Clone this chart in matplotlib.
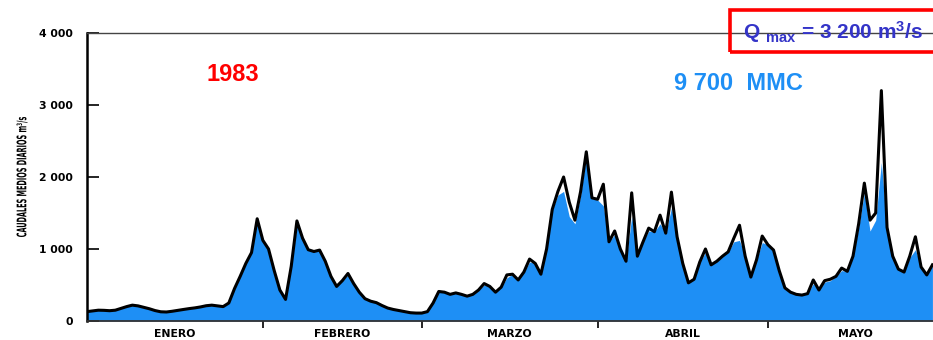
import matplotlib
matplotlib.use("Agg")
import matplotlib.pyplot as plt
from matplotlib.patches import Rectangle, PathPatch
from matplotlib.textpath import TextPath
from matplotlib.font_manager import FontProperties
from matplotlib.transforms import Affine2D, IdentityTransform
from matplotlib.ticker import FixedLocator, NullFormatter

# Caudales medios diarios 1983, enero a mayo (m3/s)
caudal = [
    130, 140, 150, 148, 143, 150, 175, 200, 220, 210,
    190, 170, 145, 128, 125, 135, 148, 160, 172, 182,
    195, 212, 220, 210, 200, 250, 450, 620, 800, 950,
    1420, 1120, 1000, 700, 430, 300, 760, 1390, 1150, 990,
    965, 985, 830, 620, 480, 560, 660, 520, 400, 310,
    275, 255, 215, 180, 160, 145, 130, 115, 110, 110,
    130, 250, 410, 400, 370, 390, 370, 345, 370, 430,
    520, 480, 400, 470, 640, 650, 570, 680, 860, 800,
    650, 1000, 1550, 1800, 2000, 1650, 1400, 1800, 2350, 1710,
    1690, 1900, 1100, 1250, 1000, 830, 1780, 900, 1100, 1290,
    1240, 1470, 1220, 1790, 1170, 800, 530, 580, 820, 1000,
    780, 830, 900, 960, 1150, 1330, 900, 610, 850, 1180,
    1060, 985, 700, 460, 400, 370, 360, 380, 570, 430,
    560, 580, 620, 735, 690, 900, 1350, 1915, 1400, 1500,
    3200, 1300, 900, 720, 680, 900, 1170, 750, 640, 780,
]

# Parte rellena (volumen), algo por debajo del trazo en las puntas
relleno = [
    130, 140, 150, 148, 143, 150, 175, 200, 220, 210,
    190, 170, 145, 128, 125, 135, 148, 160, 172, 182,
    195, 212, 220, 210, 200, 250, 450, 620, 800, 950,
    1380, 1120, 1000, 700, 430, 300, 760, 1330, 1150, 990,
    965, 985, 830, 620, 480, 560, 640, 520, 400, 310,
    275, 255, 215, 180, 160, 145, 130, 115, 110, 110,
    130, 250, 410, 400, 370, 390, 370, 345, 370, 430,
    500, 480, 400, 470, 600, 650, 570, 680, 820, 800,
    650, 1000, 1550, 1750, 1800, 1450, 1350, 1750, 2300, 1700,
    1680, 1600, 1100, 1200, 1000, 830, 1450, 900, 1100, 1250,
    1240, 1350, 1220, 1570, 1170, 800, 530, 580, 820, 950,
    780, 830, 900, 960, 1100, 1120, 900, 610, 850, 1090,
    1060, 985, 700, 460, 400, 370, 360, 380, 520, 430,
    540, 560, 620, 700, 690, 900, 1300, 1780, 1250, 1400,
    2200, 1300, 900, 720, 680, 880, 990, 750, 640, 760,
]

meses = ["ENERO", "FEBRERO", "MARZO", "ABRIL", "MAYO"]
dias_mes = [31, 28, 31, 30, 31]
y_ticks = [0, 1000, 2000, 3000, 4000]
y_labels = ["0", "1 000", "2 000", "3 000", "4 000"]

azul = "#1e8ff5"

plt.rcParams["mathtext.fontset"] = "custom"
plt.rcParams["mathtext.rm"] = "Liberation Sans:bold"
plt.rcParams["mathtext.it"] = "Liberation Sans:bold"
plt.rcParams["mathtext.bf"] = "Liberation Sans:bold"

fig = plt.figure(figsize=(9.33, 3.4), dpi=100)
ax = fig.add_axes([0.0932, 0.0559, 0.9068, 0.847])

dias = list(range(len(caudal)))
ax.fill_between(dias, 0, relleno, color=azul, lw=0, zorder=1)
ax.plot(dias, caudal, color="black", lw=2.2, solid_joinstyle="round", zorder=2)

ax.set_xlim(0, 149.1)
ax.set_ylim(0, 4000)

# limites de mes y nombres centrados
limites = []
centros = []
acum = 0
for n in dias_mes:
    centros.append(acum + n / 2)
    acum += n
    limites.append(acum)
ax.xaxis.set_major_locator(FixedLocator(limites))
ax.xaxis.set_major_formatter(NullFormatter())
ax.set_xticks(centros, minor=True)
ax.set_xticklabels(meses, minor=True, fontsize=7.8, fontweight="bold",
                   family="DejaVu Sans")
ax.tick_params(axis="x", which="major", direction="out", length=5, width=1.2)
ax.tick_params(axis="x", which="minor", length=0, pad=6)

ax.set_yticks(y_ticks)
ax.set_yticklabels(y_labels, fontsize=7.8, fontweight="bold", family="DejaVu Sans")
ax.tick_params(axis="y", direction="in", length=8.5, width=1.2, pad=10)

ax.spines["right"].set_visible(False)
ax.spines["left"].set_linewidth(1.8)
ax.spines["bottom"].set_linewidth(1.3)
ax.spines["bottom"].set_color("#333333")
ax.spines["top"].set_linewidth(1.0)
ax.spines["top"].set_color("#444444")

# titulo del eje y en letra estrecha: texto como trazado, comprimido a lo largo
tp = TextPath((0, 0), "CAUDALES MEDIOS DIARIOS m³/s", size=11,
              prop=FontProperties(family="DejaVu Sans", weight="bold"))
bb = tp.get_extents()
largo = 120.0
sx = largo / bb.width
h_fig = fig.get_size_inches()[1] * fig.dpi
tr = (Affine2D().translate(-bb.x0 - bb.width / 2, -bb.y0 - bb.height / 2)
      .scale(sx, 1.2).rotate_deg(90).translate(22, h_fig - 177))
fig.patches.append(PathPatch(tr.transform_path(tp), transform=IdentityTransform(),
                             facecolor="black", edgecolor="none"))

ax.text(0.172, 0.855, "1983", transform=ax.transAxes, ha="center", va="center",
        color="red", fontsize=17, fontweight="bold", family="Liberation Sans")
fig.text(0.791, 0.755, "9 700  MMC", ha="center", va="center",
         color=azul, fontsize=17, fontweight="bold", family="Liberation Sans")

# recuadro del caudal maximo
fig.patches.append(Rectangle((0.7824, 0.847), 0.23, 0.124, transform=fig.transFigure,
                             fill=False, edgecolor="red", lw=2.6, clip_on=False))
fig.text(0.893, 0.905, r"Q$\ _{\mathrm{max}}$ = 3 200 m$^{\mathrm{3}}$/s",
         ha="center", va="center", color="#3434c8", fontsize=15,
         fontweight="bold", family="Liberation Sans")

fig.savefig("out.png", dpi=100)
plt.close(fig)
